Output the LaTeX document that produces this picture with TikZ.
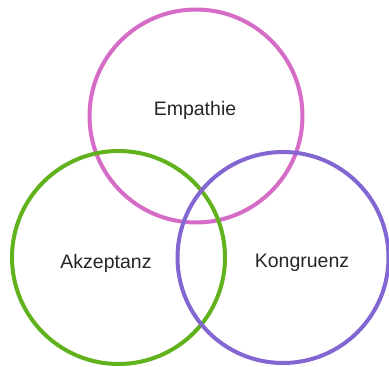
\documentclass[tikz,border=0pt]{standalone}
\usepackage{fontspec}
\setmainfont{Liberation Sans}
\definecolor{cpink}{RGB}{214,108,200}
\definecolor{cgreen}{RGB}{98,178,30}
\definecolor{cpurple}{RGB}{130,102,210}
\begin{document}
\begin{tikzpicture}[x=1pt,y=1pt,
  ring/.style={line width=4pt},
  lbl/.style={font=\fontsize{19.5}{22}\selectfont, text=black!85}]
\useasboundingbox (0,0) rectangle (389,367);
\draw[ring, draw=cpink] (196,251) circle [radius=106.5];
\draw[ring, draw=cgreen] (118.5,109.5) circle [radius=106.5];
\draw[ring, draw=cpurple] (283,109.5) circle [radius=105.5];
\node[lbl] (emp) at (195,257) {Empathie};
\node[lbl] (akz) at (106,104) {Akzeptanz};
\node[lbl] (kon) at (302,104) {Kongruenz};
\end{tikzpicture}
\end{document}
